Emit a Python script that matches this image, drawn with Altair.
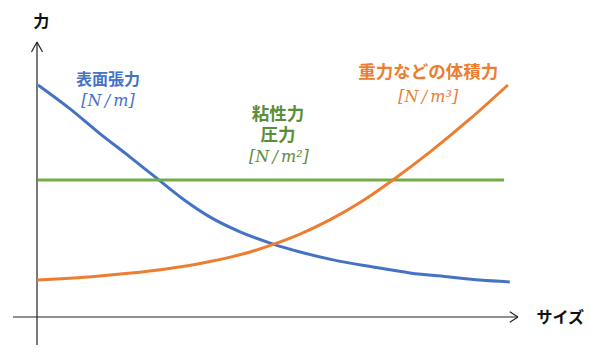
import altair as alt
import pandas as pd

# ---- data (size on x, force on y, arbitrary units) ----
blue_x = [0.02, 0.69, 1.29, 1.94, 2.46, 3.04, 3.60, 4.23, 4.92, 5.48, 6.17, 7.00, 7.77, 8.60, 9.23, 9.85]
blue_y = [8.53, 7.65, 6.77, 5.88, 5.15, 4.34, 3.68, 3.13, 2.68, 2.39, 2.10, 1.84, 1.62, 1.47, 1.36, 1.29]

orange_x = [0.0, 1.31, 2.35, 3.40, 4.44, 4.92, 5.48, 6.10, 6.73, 7.40, 8.19, 9.02, 9.81]
orange_y = [1.36, 1.51, 1.69, 1.97, 2.39, 2.67, 3.05, 3.57, 4.21, 5.02, 6.07, 7.28, 8.53]

green_x = [0.02, 9.73]
green_y = [5.04, 5.04]

series_names = ["表面張力", "粘性力・圧力", "重力などの体積力"]
series_colors = ["#4472C4", "#70AD47", "#ED7D31"]

rows = []
for name, xs, ys in [(series_names[0], blue_x, blue_y),
                     (series_names[1], green_x, green_y),
                     (series_names[2], orange_x, orange_y)]:
    for i, (a, b) in enumerate(zip(xs, ys)):
        rows.append({"series": name, "x": a, "y": b, "i": i})
df = pd.DataFrame(rows)

X = alt.Scale(domain=[-37 / 48, 553 / 48], nice=False, zero=False)
Y = alt.Scale(domain=[-37 / 27.2, 317 / 27.2], nice=False, zero=False)

lines = alt.Chart(df).mark_line(strokeWidth=3, interpolate="monotone").encode(
    x=alt.X("x:Q", scale=X, axis=None),
    y=alt.Y("y:Q", scale=Y, axis=None),
    color=alt.Color("series:N", scale=alt.Scale(domain=series_names, range=series_colors), legend=None),
    order="i:Q",
)

# ---- axes with open arrow heads ----
ax = pd.DataFrame([
    {"x": 0.0, "y": -1.03, "x2": 0.0, "y2": 10.11},       # y axis
    {"x": -0.115, "y": 9.74, "x2": 0.0, "y2": 10.11},
    {"x": 0.115, "y": 9.74, "x2": 0.0, "y2": 10.11},
    {"x": -0.5, "y": 0.0, "x2": 10.02, "y2": 0.0},         # x axis
    {"x": 9.85, "y": 0.19, "x2": 10.02, "y2": 0.0},
    {"x": 9.85, "y": -0.19, "x2": 10.02, "y2": 0.0},
])
axes = alt.Chart(ax).mark_rule(color="#222222", strokeWidth=1.2).encode(
    x=alt.X("x:Q", scale=X, axis=None), y=alt.Y("y:Q", scale=Y, axis=None),
    x2="x2:Q", y2="y2:Q"
)

# ---- labels ----
def label_layer(df_, color, baseline="middle", **kw):
    return alt.Chart(df_).mark_text(
        baseline=baseline, align="center", color=color, **kw
    ).encode(
        x=alt.X("x:Q", scale=X, axis=None), y=alt.Y("y:Q", scale=Y, axis=None), text="t:N"
    )

JP = "Noto Sans CJK JP"
SERIF = "DejaVu Serif"

black_lbl = pd.DataFrame([{"t": "力", "x": 0.09, "y": 10.86},
                          {"t": "サイズ", "x": 10.9, "y": -0.04}])
blue_lbl = pd.DataFrame([{"t": "表面張力", "x": 1.48, "y": 8.71}])
green_lbl = pd.DataFrame([{"t": "粘性力\n圧力", "x": 5.02, "y": 7.74}])
orange_lbl = pd.DataFrame([{"t": "重力などの体積力", "x": 8.15, "y": 8.97}])

blue_unit = pd.DataFrame([{"t": "[N\u2009/\u2009m]", "x": 1.48, "y": 7.94}])
green_unit = pd.DataFrame([{"t": "[N\u2009/\u2009m²]", "x": 5.04, "y": 5.88}])
orange_unit = pd.DataFrame([{"t": "[N\u2009/\u2009m³]", "x": 8.15, "y": 8.09}])

texts = [
    label_layer(black_lbl, "#111111", font=JP, fontWeight="bold", fontSize=16),
    label_layer(blue_lbl, "#4472C4", font=JP, fontWeight="bold", fontSize=16),
    label_layer(green_lbl, "#5B8E3A", baseline="top", font=JP, fontWeight="bold",
                fontSize=17.5, lineBreak="\n", lineHeight=21),
    label_layer(orange_lbl, "#ED7D31", font=JP, fontWeight="bold", fontSize=17.5),
    label_layer(blue_unit, "#4472C4", font=SERIF, fontStyle="italic", fontSize=16),
    label_layer(green_unit, "#5B8E3A", font=SERIF, fontStyle="italic", fontSize=16),
    label_layer(orange_unit, "#ED7D31", font=SERIF, fontStyle="italic", fontSize=16),
]

chart = alt.layer(axes, lines, *texts).properties(
    width=590, height=354, autosize=alt.AutoSizeParams(type="none"), padding=0,
    background="white",
).configure_view(stroke=None)

chart.save("out.html", embed_options={"renderer": "svg", "actions": False})
